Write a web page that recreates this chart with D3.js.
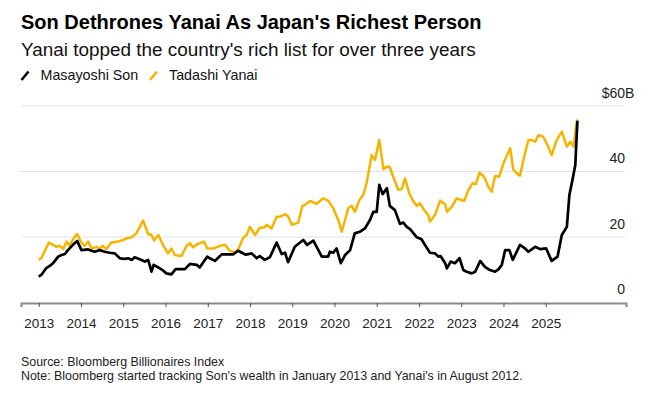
<!DOCTYPE html>
<html>
<head>
<meta charset="utf-8">
<script src="https://cdn.jsdelivr.net/npm/d3@7"></script>
<style>
  body { margin: 0; padding: 0; background: #fff; }
  text { font-family: "Liberation Sans", Arial, Helvetica, sans-serif; }
</style>
</head>
<body>
<script>
// chart values (year as decimal, $B)
var years = [2013, 2014, 2015, 2016, 2017, 2018, 2019, 2020, 2021, 2022, 2023, 2024, 2025];
var yTicks = [0, 20, 40, 60];

var sonYears = [2013.00, 2013.06, 2013.17, 2013.26, 2013.34, 2013.46, 2013.54, 2013.62, 2013.69, 2013.81, 2013.91,
  2014.01, 2014.17, 2014.25, 2014.33, 2014.44, 2014.56, 2014.68, 2014.80, 2014.92,
  2015.04, 2015.12, 2015.20, 2015.27, 2015.39, 2015.51, 2015.59, 2015.67, 2015.72, 2015.83, 2015.93,
  2016.02, 2016.14, 2016.24, 2016.46, 2016.58, 2016.74, 2016.81, 2016.89, 2016.99,
  2017.05, 2017.17, 2017.33, 2017.60, 2017.72, 2017.90,
  2018.04, 2018.16, 2018.23, 2018.35, 2018.47, 2018.63, 2018.75, 2018.83, 2018.90,
  2019.06, 2019.26, 2019.35, 2019.50, 2019.70, 2019.85, 2019.89, 2019.97,
  2020.05, 2020.15, 2020.25, 2020.37, 2020.48, 2020.60, 2020.72, 2020.84, 2020.92, 2021.00,
  2021.06, 2021.14, 2021.24, 2021.31, 2021.43, 2021.55, 2021.63, 2021.71, 2021.79, 2021.95,
  2022.06, 2022.14, 2022.26, 2022.38, 2022.46, 2022.51, 2022.62, 2022.66, 2022.75, 2022.85, 2022.96,
  2023.05, 2023.13, 2023.25, 2023.33, 2023.45, 2023.56, 2023.68, 2023.80, 2023.88, 2023.96,
  2024.04, 2024.14, 2024.22, 2024.39, 2024.51, 2024.59, 2024.75, 2024.87,
  2025.01, 2025.14, 2025.28, 2025.38, 2025.50, 2025.56, 2025.64, 2025.70, 2025.72, 2025.75];
var sonWealth = [7.9, 8.4, 10.4, 11.2, 12.0, 14.0, 14.5, 14.8, 16.0, 17.6, 18.8,
  16.0, 16.2, 15.8, 15.5, 16.0, 15.5, 15.2, 15.0, 13.5,
  13.3, 13.5, 13.0, 13.8, 13.2, 12.5, 13.0, 9.4, 11.5, 10.7, 9.9,
  8.9, 8.6, 10.2, 10.2, 11.8, 11.5, 10.7, 12.2, 14.0,
  13.5, 12.7, 14.7, 14.7, 15.8, 14.6,
  15.0, 13.5, 14.2, 13.0, 13.8, 18.3, 14.8, 15.2, 12.3,
  17.0, 19.1, 17.6, 18.9, 14.0, 14.0, 15.5, 15.2,
  16.5, 12.0, 14.5, 16.0, 21.1, 21.6, 22.6, 25.2, 27.7, 27.7,
  35.9, 33.1, 34.9, 29.5, 28.2, 24.0, 24.4, 23.1, 22.4, 19.9,
  19.3, 17.6, 15.2, 15.0, 14.0, 14.2, 12.0, 10.4, 12.5, 12.0, 13.5,
  9.9, 9.4, 8.9, 9.4, 12.7, 10.9, 9.9, 9.4, 10.1, 11.5,
  16.0, 16.0, 13.0, 17.6, 16.5, 15.5, 17.0, 16.3,
  16.5, 12.7, 14.0, 20.6, 23.1, 32.8, 37.9, 42.0, 47.6, 55.5];

var yanaiYears = [2013.00, 2013.06, 2013.24, 2013.34, 2013.42, 2013.50, 2013.58, 2013.66, 2013.73, 2013.81, 2013.91,
  2014.01, 2014.09, 2014.17, 2014.25, 2014.37, 2014.44, 2014.52, 2014.60, 2014.72, 2014.88,
  2015.00, 2015.08, 2015.20, 2015.31, 2015.47, 2015.59, 2015.67, 2015.73, 2015.83, 2015.94,
  2016.06, 2016.14, 2016.22, 2016.38, 2016.50, 2016.58, 2016.65, 2016.77, 2016.91, 2016.99,
  2017.13, 2017.29, 2017.41, 2017.52, 2017.64, 2017.72, 2017.84, 2017.92,
  2018.00, 2018.12, 2018.23, 2018.35, 2018.39, 2018.51, 2018.63, 2018.71, 2018.83, 2018.90, 2018.99,
  2019.14, 2019.24, 2019.30, 2019.42, 2019.58, 2019.73, 2019.85, 2019.97,
  2020.09, 2020.17, 2020.25, 2020.33, 2020.41, 2020.48, 2020.60, 2020.68, 2020.76, 2020.88, 2020.96,
  2021.06, 2021.16, 2021.24, 2021.31, 2021.39, 2021.51, 2021.59, 2021.67, 2021.77, 2021.87, 2021.95,
  2022.02, 2022.14, 2022.22, 2022.26, 2022.38, 2022.50, 2022.62, 2022.66, 2022.78, 2022.89,
  2023.07, 2023.17, 2023.27, 2023.35, 2023.43, 2023.54, 2023.64, 2023.72, 2023.80, 2023.90,
  2024.00, 2024.16, 2024.23, 2024.31, 2024.39, 2024.49, 2024.59, 2024.67, 2024.75, 2024.83, 2024.94,
  2025.04, 2025.14, 2025.26, 2025.38, 2025.50, 2025.58, 2025.66, 2025.74];
var yanaiWealth = [13.0, 13.5, 18.3, 17.6, 17.0, 17.3, 16.3, 18.6, 17.3, 19.3, 20.9,
  18.3, 17.3, 18.6, 16.5, 17.0, 16.5, 17.3, 16.3, 18.3, 18.6,
  19.1, 19.6, 19.9, 21.1, 25.0, 20.9, 20.6, 18.9, 20.6, 17.6,
  15.0, 16.5, 14.5, 14.2, 17.3, 18.1, 16.9, 17.9, 18.6, 16.5,
  16.5, 17.3, 17.6, 15.8, 15.3, 16.2, 19.8, 20.6,
  23.1, 20.6, 22.8, 23.0, 23.7, 22.6, 26.2, 26.2, 26.9, 26.4, 23.7,
  24.4, 29.5, 29.8, 31.0, 30.1, 31.8, 31.1, 28.8,
  25.2, 21.6, 25.2, 28.9, 29.5, 27.7, 31.5, 32.8, 36.4, 45.0, 43.5,
  49.6, 40.7, 41.5, 41.3, 38.4, 34.4, 34.6, 37.9, 33.3, 30.8, 29.5,
  30.3, 27.9, 26.7, 24.7, 26.7, 31.1, 30.0, 27.7, 29.3, 31.8,
  31.0, 34.4, 36.4, 36.2, 39.6, 38.4, 35.4, 33.8, 38.6, 38.4,
  42.5, 47.1, 40.7, 39.5, 38.7, 44.5, 49.6, 49.6, 49.1, 51.1, 50.6,
  48.1, 45.0, 49.6, 52.2, 47.6, 49.1, 47.6, 55.9];

var seriesNames = ["Masayoshi Son", "Tadashi Yanai"];
var seriesColors = ["#000000", "#f5b400"];

var width = 656, height = 394;

var svg = d3.select("body").append("svg")
  .attr("width", width)
  .attr("height", height);

var x = d3.scaleLinear().domain([2012.58, 2026.9]).range([21, 626]);
var y = d3.scaleLinear().domain([0, 60]).range([302.5, 106]);

// titles
svg.append("text").attr("x", 21).attr("y", 28.5)
  .style("font-size", "20px").style("font-weight", "bold").attr("fill", "#000")
  .text("Son Dethrones Yanai As Japan's Richest Person");
svg.append("text").attr("x", 21).attr("y", 56)
  .style("font-size", "18.9px").attr("fill", "#111")
  .text("Yanai topped the country's rich list for over three years");

// legend
var legX = [21.5, 150];
seriesNames.forEach(function(name, i) {
  svg.append("line")
    .attr("x1", legX[i]).attr("y1", 80).attr("x2", legX[i] + 7).attr("y2", 71.5)
    .attr("stroke", seriesColors[i]).attr("stroke-width", 2.6);
  svg.append("text").attr("x", legX[i] + 19).attr("y", 80)
    .style("font-size", "14.3px").attr("fill", "#111")
    .text(name);
});

// gridlines
svg.append("g").selectAll("line").data(yTicks.slice(1)).enter().append("line")
  .attr("x1", 21).attr("x2", 625)
  .attr("y1", function(d) { return y(d); }).attr("y2", function(d) { return y(d); })
  .attr("stroke", "#e2e2e2").attr("stroke-width", 1);

// y labels, sitting above the gridlines on the right
var yl = svg.append("g");
yTicks.forEach(function(d) {
  yl.append("text").attr("x", 625).attr("y", y(d) - 8.5)
    .attr("text-anchor", "end").style("font-size", "14px").attr("fill", "#222")
    .text(d == 60 ? "$" + d : d);
  if (d == 60) {
    yl.append("text").attr("x", 625).attr("y", y(d) - 8.5)
      .style("font-size", "14px").attr("fill", "#222").text("B");
  }
});

// x axis
var xAxis = d3.axisBottom(x).tickValues(years).tickFormat(d3.format("d")).tickSize(4).tickPadding(11);
var gx = svg.append("g").attr("transform", "translate(0,303)").call(xAxis);
gx.select(".domain").attr("stroke", "#8a8a8a").attr("stroke-width", 2);
gx.selectAll(".tick line").attr("stroke", "#555").attr("stroke-width", 1);
gx.selectAll(".tick text").style("font-size", "13.5px").attr("fill", "#222")
  .style("font-family", "'Liberation Sans', Arial, sans-serif");

// lines
var line = d3.line()
  .x(function(d) { return x(d[0]); })
  .y(function(d) { return y(d[1]); });

var yanaiData = d3.zip(yanaiYears, yanaiWealth);
var sonData = d3.zip(sonYears, sonWealth);

svg.append("path").datum(yanaiData)
  .attr("d", line).attr("fill", "none")
  .attr("stroke", seriesColors[1]).attr("stroke-width", 2.5)
  .attr("stroke-linejoin", "round");
svg.append("path").datum(sonData)
  .attr("d", line).attr("fill", "none")
  .attr("stroke", seriesColors[0]).attr("stroke-width", 2.7)
  .attr("stroke-linejoin", "round");

// footer
svg.append("text").attr("x", 21).attr("y", 365.5)
  .style("font-size", "12.4px").attr("fill", "#222")
  .text("Source: Bloomberg Billionaires Index");
svg.append("text").attr("x", 21).attr("y", 379.5)
  .style("font-size", "12.4px").attr("fill", "#222")
  .text("Note: Bloomberg started tracking Son's wealth in January 2013 and Yanai's in August 2012.");
</script>
</body>
</html>
